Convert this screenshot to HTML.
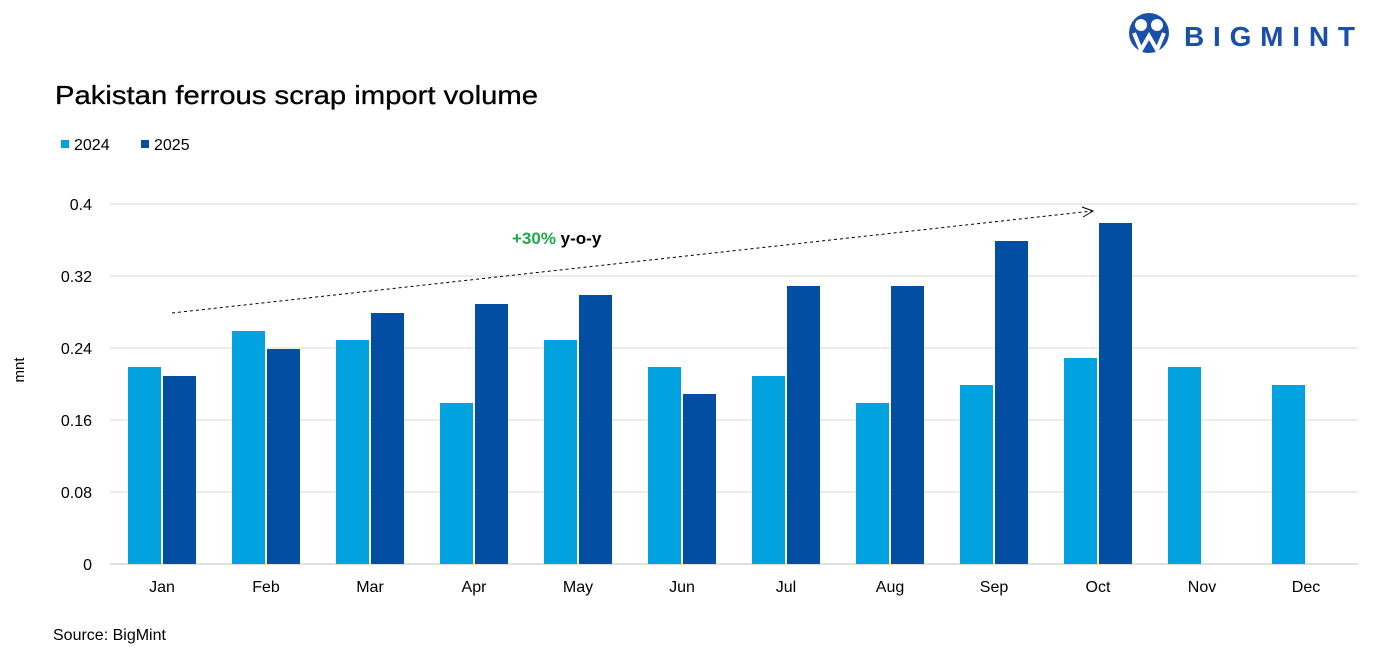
<!DOCTYPE html>
<html><head><meta charset="utf-8"><style>
body{margin:0;background:#fff;font-family:"Liberation Sans",sans-serif;}
#wrap{position:relative;width:1385px;height:660px;overflow:hidden;}
</style></head><body>
<div id="wrap">
<svg id="svg" width="1385" height="660" xmlns="http://www.w3.org/2000/svg">
  <g>
    <circle cx="1149" cy="33" r="20" fill="#1a4faa"/>
    <circle cx="1141" cy="25" r="6" fill="#fff"/>
    <circle cx="1157" cy="25" r="6" fill="#fff"/>
    <path d="M1134 33 L1141 50 L1149 36 L1157 50 L1164 33" stroke="#fff" stroke-width="4" fill="none"/>
    <text x="1184" y="46" font-size="28" font-weight="bold" fill="#1a4faa" textLength="171" lengthAdjust="spacing">BIGMINT</text>
  </g>
  <text x="55" y="104" font-size="26" fill="#000" stroke="#000" stroke-width="0.3" textLength="483" lengthAdjust="spacingAndGlyphs">Pakistan ferrous scrap import volume</text>
  <g>
    <rect x="61" y="140" width="8" height="8" fill="#00a3e0"/>
    <text x="74" y="150" font-size="16">2024</text>
    <rect x="141" y="140" width="8" height="8" fill="#024ea2"/>
    <text x="154" y="150" font-size="16">2025</text>
  </g>
  <text transform="translate(24,370) rotate(-90)" text-anchor="middle" font-size="15">mnt</text>
  <g id="grid"></g>
  <g id="bars"></g>
  <g id="xlabels"></g>
  <line x1="172" y1="313" x2="1092" y2="211" stroke="#000" stroke-width="1" stroke-dasharray="3,3"/>
  <path d="M1082 207 L1093 211 L1083 217" fill="none" stroke="#000" stroke-width="1"/>
  <text x="512" y="244" font-size="17" font-weight="bold"><tspan fill="#1cab4b">+30%</tspan><tspan fill="#000"> y-o-y</tspan></text>
  <text x="53" y="640" font-size="16">Source: BigMint</text>
</svg>
</div>
<script>
const categories=["Jan","Feb","Mar","Apr","May","Jun","Jul","Aug","Sep","Oct","Nov","Dec"];
const values2024=[0.22,0.26,0.25,0.18,0.25,0.22,0.21,0.18,0.20,0.23,0.22,0.20];
const values2025=[0.21,0.24,0.28,0.29,0.30,0.19,0.31,0.31,0.36,0.38,null,null];
const yTicks=[0,0.08,0.16,0.24,0.32,0.4];
const yTickLabels=["0","0.08","0.16","0.24","0.32","0.4"];
const NS="http://www.w3.org/2000/svg";
const left=110,right=1358,y0=565,yTop=205,yMax=0.4;
const y=v=>y0-(v/yMax)*(y0-yTop);
const band=(right-left)/categories.length;
const x=i=>left+band*i;
function mk(tag,attrs,parent){const e=document.createElementNS(NS,tag);for(const k in attrs)e.setAttribute(k,attrs[k]);parent.appendChild(e);return e;}
const grid=document.getElementById('grid'),bars=document.getElementById('bars'),xl=document.getElementById('xlabels');
yTicks.forEach((t,i)=>{
  const l=mk('line',{x1:left,x2:right,y1:y(t)-1,y2:y(t)-1,stroke:i==0?'#bfbfbf':'#d9d9d9','stroke-width':1},grid);
  
  
  const tx=mk('text',{x:92,y:y(t)+5,'text-anchor':'end','font-size':16},grid);
  tx.textContent=yTickLabels[i];
  
  
});
const bw=33;
categories.forEach((c,i)=>{
  const cx=x(i)+band/2;
  const a=values2024[i];
  if(a!=null){const r=mk('rect',{x:cx-bw-1,y:y(a),width:bw,height:y0-1-y(a),fill:'#00a3e0'},bars);
    
    }
  const b=values2025[i];
  if(b!=null){const r=mk('rect',{x:cx+1,y:y(b),width:bw,height:y0-1-y(b),fill:'#024ea2'},bars);
    
    }
  const t=mk('text',{x:cx,y:592,'text-anchor':'middle','font-size':16},xl);
  t.textContent=c;
  
  
});
</script>
</body></html>
